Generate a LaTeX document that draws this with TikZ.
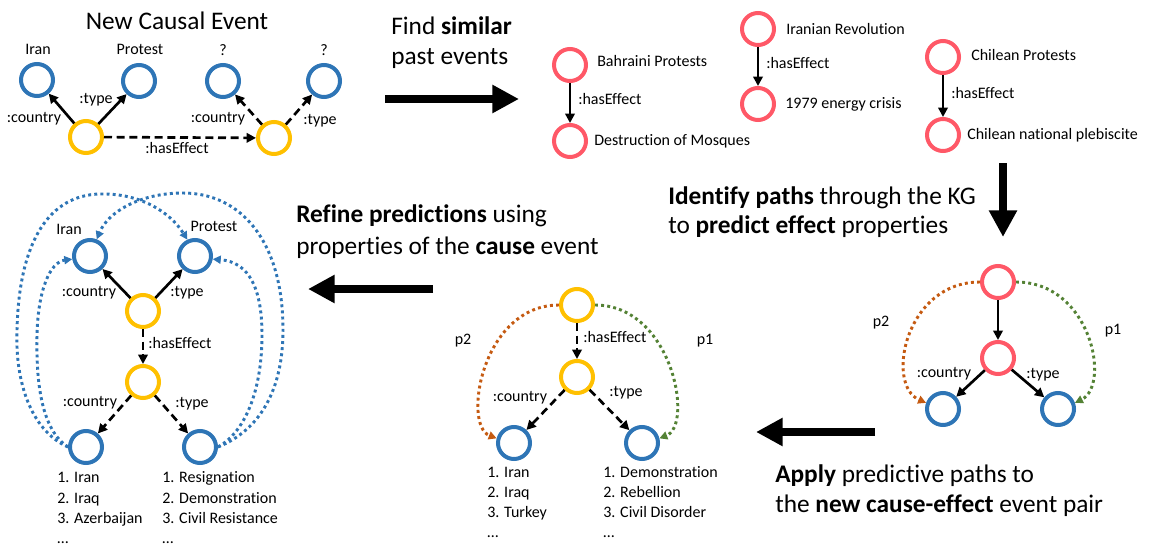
\documentclass[tikz,border=0pt]{standalone}
\usepackage{fontspec}
\setmainfont[Ligatures=NoCommon]{Carlito}
\usetikzlibrary{arrows.meta}
\definecolor{cblue}{HTML}{2E75B6}
\definecolor{cyel}{HTML}{FFC000}
\definecolor{cred}{HTML}{FF5867}
\definecolor{corange}{HTML}{C55A11}
\definecolor{cgreen}{HTML}{548235}
\tikzset{
 vtx/.style={circle, draw, line width=3pt, minimum size=24pt, inner sep=0pt},
 bluev/.style={vtx, draw=cblue},
 yelv/.style={vtx, draw=cyel},
 redv/.style={vtx, draw=cred},
 lbl/.style={inner sep=0pt, font=\fontsize{12}{14}\selectfont, text height=0.65em, text depth=0pt},
 big/.style={inner sep=0pt, font=\fontsize{19}{23}\selectfont, text height=0.65em, text depth=0pt},
 edge/.style={line width=2pt, -{Triangle[length=7pt,width=7pt]}},
 dedge/.style={edge, dash pattern=on 6pt off 3.5pt},
 dotp/.style={line width=2.2pt, dash pattern=on 2.2pt off 2.4pt, -{Triangle[length=6pt,width=6pt]}},
 bigarrow/.style={line width=6.5pt, -{Triangle[length=20pt,width=20pt]}},
}
\begin{document}
\begin{tikzpicture}[x=0.75pt,y=-0.75pt]
\useasboundingbox (0,0) rectangle (1155,549);
% ---------- Panel 1: new causal event
\node[big] (t1) at (177,25) {New Causal Event};
\node[bluev] (a1) at (37,80) {};
\node[bluev] (a2) at (139,81) {};
\node[bluev] (a3) at (223,81) {};
\node[bluev] (a4) at (324,81) {};
\node[yelv] (ac) at (86,137) {};
\node[yelv] (ae) at (274,138) {};
\node[lbl] (la1) at (38,50) {Iran};
\node[lbl] (la2) at (140,50) {Protest};
\node[lbl] (la3) at (223,51) {?};
\node[lbl] (la4) at (324,51) {?};
\node[lbl] (la5) at (34,118) {:country};
\node[lbl] (la6) at (96,99) {:type};
\node[lbl] (la7) at (218,118) {:country};
\node[lbl] (la8) at (320,120) {:type};
\node[lbl] (la9) at (177,149) {:hasEffect};
\draw[edge] (ac) -- (a1);
\draw[edge] (ac) -- (a2);
\draw[dedge] (ac) -- (ae);
\draw[dedge] (ae) -- (a3);
\draw[dedge] (ae) -- (a4);
% ---------- Panel 2: similar past events
\node[redv] (b1) at (570,65) {};
\node[redv] (b2) at (570,141) {};
\node[redv] (c1) at (758,29) {};
\node[redv] (c2) at (758,104) {};
\node[redv] (d1) at (943,57) {};
\node[redv] (d2) at (943,135) {};
\node[lbl,anchor=west] (lb1) at (597,62) {Bahraini Protests};
\node[lbl,anchor=west] (lb2) at (594,141) {Destruction of Mosques};
\node[lbl,anchor=west] (lb3) at (578,100) {:hasEffect};
\node[lbl,anchor=west] (lc1) at (786,30) {Iranian Revolution};
\node[lbl,anchor=west] (lc2) at (785,104) {1979 energy crisis};
\node[lbl,anchor=west] (lc3) at (766,64) {:hasEffect};
\node[lbl,anchor=west] (ld1) at (971,56) {Chilean Protests};
\node[lbl,anchor=west] (ld2) at (967,135) {Chilean national plebiscite};
\node[lbl,anchor=west] (ld3) at (951,94) {:hasEffect};
\draw[edge] (b1) -- (b2);
\draw[edge] (c1) -- (c2);
\draw[edge] (d1) -- (d2);
% ---------- step texts
\node[big,anchor=west] (s1a) at (391,30) {Find \textbf{similar}};
\node[big,anchor=west] (s1b) at (391,60) {past events};
\node[big,anchor=west] (s2a) at (668,200) {\textbf{Identify paths} through the KG};
\node[big,anchor=west] (s2b) at (668,229) {to \textbf{predict effect} properties};
\node[big,anchor=west] (s3a) at (296,218) {\textbf{Refine predictions} using};
\node[big,anchor=west] (s3b) at (296,250) {properties of the \textbf{cause} event};
\node[big,anchor=west] (s4a) at (775,478) {\textbf{Apply} predictive paths to};
\node[big,anchor=west] (s4b) at (775,508) {the \textbf{new cause-effect} event pair};
% ---------- big arrows
\coordinate (A1s) at (385,99); \coordinate (A1e) at (519,99);
\coordinate (A2s) at (1003,163); \coordinate (A2e) at (1003,237);
\coordinate (A3s) at (433,289); \coordinate (A3e) at (308,289);
\coordinate (A4s) at (875,432); \coordinate (A4e) at (756,432);
\draw[bigarrow] (A1s) -- (A1e);
\draw[bigarrow] (A2s) -- (A2e);
\draw[bigarrow] (A3s) -- (A3e);
\draw[bigarrow] (A4s) -- (A4e);
% ---------- Panel 4: paths through KG
\node[redv] (e1) at (998,282) {};
\node[redv] (e2) at (998,358) {};
\node[bluev] (f1) at (943,409) {};
\node[bluev] (f2) at (1058,409) {};
\node[lbl] (le1) at (944,373) {:country};
\node[lbl] (le2) at (1043,374) {:type};
\node[lbl] (le3) at (881,322) {p2};
\node[lbl] (le4) at (1113,330) {p1};
\draw[edge] (e1) -- (e2);
\draw[edge] (e2) -- (f1);
\draw[edge] (e2) -- (f2);
\draw[dotp,corange] (e1.west) .. controls (905,282) and (885,385) .. (f1.160);
\draw[dotp,cgreen] (e1.east) .. controls (1091,282) and (1111,385) .. (f2.20);
% ---------- Panel 5: apply paths
\node[yelv] (g1) at (577,305) {};
\node[yelv] (g2) at (577,377) {};
\node[bluev] (h1) at (514,443) {};
\node[bluev] (h2) at (642,443) {};
\node[lbl,anchor=west] (lg1) at (583,338) {:hasEffect};
\node[lbl] (lg2) at (520,397) {:country};
\node[lbl] (lg3) at (626,392) {:type};
\node[lbl] (lg4) at (463,340) {p2};
\node[lbl] (lg5) at (705,340) {p1};
\draw[dedge] (g1) -- (g2);
\draw[dedge] (g2) -- (h1);
\draw[dedge] (g2) -- (h2);
\draw[dotp,corange] (g1.west) .. controls (482,305) and (462,425) .. (h1.165);
\draw[dotp,cgreen] (g1.east) .. controls (672,305) and (694,425) .. (h2.15);
\node[lbl,anchor=west] (m1) at (487,473) {1. Iran};
\node[lbl,anchor=west] (m2) at (487,493) {2. Iraq};
\node[lbl,anchor=west] (m3) at (487,513) {3. Turkey};
\node[lbl,anchor=west] (m4) at (487,533) {…};
\node[lbl,anchor=west] (n1) at (603,473) {1. Demonstration};
\node[lbl,anchor=west] (n2) at (603,493) {2. Rebellion};
\node[lbl,anchor=west] (n3) at (603,513) {3. Civil Disorder};
\node[lbl,anchor=west] (n4) at (603,533) {…};
% ---------- Panel 6: refine predictions
\node[bluev] (i1) at (90,256) {};
\node[bluev] (i2) at (195,256) {};
\node[yelv] (j1) at (143,311) {};
\node[yelv] (j2) at (143,382) {};
\node[bluev] (k1) at (86,447) {};
\node[bluev] (k2) at (200,447) {};
\node[lbl] (li1) at (69,230) {Iran};
\node[lbl] (li2) at (214,227) {Protest};
\node[lbl] (li3) at (89,292) {:country};
\node[lbl] (li4) at (187,292) {:type};
\node[lbl,anchor=west] (li5) at (148,344) {:hasEffect};
\node[lbl] (li6) at (90,402) {:country};
\node[lbl] (li7) at (192,403) {:type};
\draw[edge] (j1) -- (i1);
\draw[edge] (j1) -- (i2);
\draw[dedge] (j1) -- (j2);
\draw[dedge] (j2) -- (k1);
\draw[dedge] (j2) -- (k2);
\draw[dotp,cblue] (k1.west) .. controls (30,430) and (15,380) .. (17,330)
  .. controls (19,240) and (50,195) .. (100,194)
  .. controls (140,193) and (170,212) .. (i2.115);
\draw[dotp,cblue] (k1.west) .. controls (42,430) and (36,385) .. (37,335)
  .. controls (38,290) and (50,262) .. (i1.190);
\draw[dotp,cblue] (k2.east) .. controls (260,430) and (283,390) .. (283,330)
  .. controls (283,240) and (240,193) .. (183,193)
  .. controls (140,193) and (108,212) .. (i1.68);
\draw[dotp,cblue] (k2.east) .. controls (248,430) and (262,385) .. (262,335)
  .. controls (262,290) and (250,262) .. (i2.350);
\node[lbl,anchor=west] (o1) at (57,478) {1. Iran};
\node[lbl,anchor=west] (o2) at (57,499) {2. Iraq};
\node[lbl,anchor=west] (o3) at (57,519) {3. Azerbaijan};
\node[lbl,anchor=west] (o4) at (57,539) {…};
\node[lbl,anchor=west] (q1) at (162,478) {1. Resignation};
\node[lbl,anchor=west] (q2) at (162,499) {2. Demonstration};
\node[lbl,anchor=west] (q3) at (162,519) {3. Civil Resistance};
\node[lbl,anchor=west] (q4) at (162,539) {…};
\end{tikzpicture}
\end{document}
